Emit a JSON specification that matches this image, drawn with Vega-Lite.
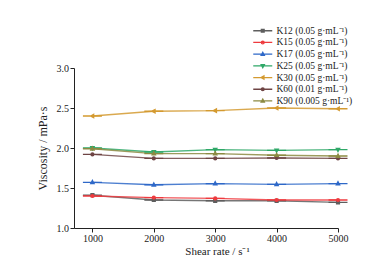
{
  "$schema": "https://vega.github.io/schema/vega-lite/v6.json",
  "width": 264,
  "height": 160,
  "autosize": "none",
  "padding": {"left": 74, "top": 68, "right": 37, "bottom": 35},
  "background": "white",
  "config": {
    "font": "Liberation Serif",
    "view": {"stroke": null},
    "axis": {
      "grid": false,
      "domainColor": "#222",
      "tickColor": "#222",
      "tickSize": 4,
      "labelPadding": 1.5,
      "labelFont": "Liberation Serif",
      "labelFontSize": 10,
      "labelColor": "#222",
      "titleFont": "Liberation Serif",
      "titleFontWeight": "normal",
      "titleColor": "#222"
    }
  },
  "data": {
    "values": [
      {"series": "K12 (0.05 g·mL⁻¹)", "rate": 1000, "viscosity": 1.41},
      {"series": "K12 (0.05 g·mL⁻¹)", "rate": 2000, "viscosity": 1.35},
      {"series": "K12 (0.05 g·mL⁻¹)", "rate": 3000, "viscosity": 1.34},
      {"series": "K12 (0.05 g·mL⁻¹)", "rate": 4000, "viscosity": 1.34},
      {"series": "K12 (0.05 g·mL⁻¹)", "rate": 5000, "viscosity": 1.32},
      {"series": "K15 (0.05 g·mL⁻¹)", "rate": 1000, "viscosity": 1.40},
      {"series": "K15 (0.05 g·mL⁻¹)", "rate": 2000, "viscosity": 1.38},
      {"series": "K15 (0.05 g·mL⁻¹)", "rate": 3000, "viscosity": 1.37},
      {"series": "K15 (0.05 g·mL⁻¹)", "rate": 4000, "viscosity": 1.35},
      {"series": "K15 (0.05 g·mL⁻¹)", "rate": 5000, "viscosity": 1.35},
      {"series": "K17 (0.05 g·mL⁻¹)", "rate": 1000, "viscosity": 1.57},
      {"series": "K17 (0.05 g·mL⁻¹)", "rate": 2000, "viscosity": 1.54},
      {"series": "K17 (0.05 g·mL⁻¹)", "rate": 3000, "viscosity": 1.555},
      {"series": "K17 (0.05 g·mL⁻¹)", "rate": 4000, "viscosity": 1.545},
      {"series": "K17 (0.05 g·mL⁻¹)", "rate": 5000, "viscosity": 1.555},
      {"series": "K25 (0.05 g·mL⁻¹)", "rate": 1000, "viscosity": 2.0},
      {"series": "K25 (0.05 g·mL⁻¹)", "rate": 2000, "viscosity": 1.95},
      {"series": "K25 (0.05 g·mL⁻¹)", "rate": 3000, "viscosity": 1.98},
      {"series": "K25 (0.05 g·mL⁻¹)", "rate": 4000, "viscosity": 1.97},
      {"series": "K25 (0.05 g·mL⁻¹)", "rate": 5000, "viscosity": 1.98},
      {"series": "K30 (0.05 g·mL⁻¹)", "rate": 1000, "viscosity": 2.40},
      {"series": "K30 (0.05 g·mL⁻¹)", "rate": 2000, "viscosity": 2.46},
      {"series": "K30 (0.05 g·mL⁻¹)", "rate": 3000, "viscosity": 2.467},
      {"series": "K30 (0.05 g·mL⁻¹)", "rate": 4000, "viscosity": 2.50},
      {"series": "K30 (0.05 g·mL⁻¹)", "rate": 5000, "viscosity": 2.49},
      {"series": "K60 (0.01 g·mL⁻¹)", "rate": 1000, "viscosity": 1.92},
      {"series": "K60 (0.01 g·mL⁻¹)", "rate": 2000, "viscosity": 1.87},
      {"series": "K60 (0.01 g·mL⁻¹)", "rate": 3000, "viscosity": 1.87},
      {"series": "K60 (0.01 g·mL⁻¹)", "rate": 4000, "viscosity": 1.875},
      {"series": "K60 (0.01 g·mL⁻¹)", "rate": 5000, "viscosity": 1.87},
      {"series": "K90 (0.005 g·mL⁻¹)", "rate": 1000, "viscosity": 1.99},
      {"series": "K90 (0.005 g·mL⁻¹)", "rate": 2000, "viscosity": 1.93},
      {"series": "K90 (0.005 g·mL⁻¹)", "rate": 3000, "viscosity": 1.93},
      {"series": "K90 (0.005 g·mL⁻¹)", "rate": 4000, "viscosity": 1.91},
      {"series": "K90 (0.005 g·mL⁻¹)", "rate": 5000, "viscosity": 1.90}
    ]
  },
  "encoding": {
    "x": {
      "field": "rate",
      "type": "quantitative",
      "scale": {"domain": [700, 5000], "nice": false, "zero": false},
      "axis": {
        "values": [1000, 2000, 3000, 4000, 5000],
        "format": "d",
        "title": "Shear rate / s⁻¹",
        "titleFontSize": 11,
        "titlePadding": 2,
        "titleX": 143,
        "labelFlush": false
      }
    },
    "y": {
      "field": "viscosity",
      "type": "quantitative",
      "scale": {"domain": [1, 3], "nice": false, "zero": false},
      "axis": {
        "values": [1, 1.5, 2, 2.5, 3],
        "format": ".1f",
        "title": "Viscosity / mPa·s",
        "titleFontSize": 12,
        "titlePadding": 7
      }
    }
  },
  "layer": [
    {
      "mark": {"type": "line", "strokeWidth": 1.4, "opacity": 0.85},
      "encoding": {
        "stroke": {
          "field": "series",
          "type": "nominal",
          "legend": null,
          "scale": {
            "range": ["#5e5e5e", "#ee3a3e", "#2e68c8", "#2fa868", "#d49a30", "#6e4444", "#8c8a42"]
          }
        }
      }
    },
    {
      "mark": {"type": "point", "filled": false, "size": 16, "strokeWidth": 1.4, "opacity": 1},
      "encoding": {
        "color": {
          "field": "series",
          "type": "nominal",
          "scale": {
            "domain": ["K12 (0.05 g·mL⁻¹)", "K15 (0.05 g·mL⁻¹)", "K17 (0.05 g·mL⁻¹)", "K25 (0.05 g·mL⁻¹)", "K30 (0.05 g·mL⁻¹)", "K60 (0.01 g·mL⁻¹)", "K90 (0.005 g·mL⁻¹)"],
            "range": ["#5e5e5e", "#ee3a3e", "#2e68c8", "#2fa868", "#d49a30", "#6e4444", "#8c8a42"]
          },
          "legend": {"title": null, "orient": "none", "legendX": 184, "legendY": -42, "padding": 0, "rowPadding": 0.7, "symbolSize": 16, "symbolStrokeWidth": 1.3, "labelOffset": 9, "labelFont": "Liberation Serif", "labelFontSize": 9.5, "labelColor": "#222", "labelLimit": 200}
        },
        "shape": {
          "field": "series",
          "type": "nominal",
          "scale": {
            "domain": ["K12 (0.05 g·mL⁻¹)", "K15 (0.05 g·mL⁻¹)", "K17 (0.05 g·mL⁻¹)", "K25 (0.05 g·mL⁻¹)", "K30 (0.05 g·mL⁻¹)", "K60 (0.01 g·mL⁻¹)", "K90 (0.005 g·mL⁻¹)"],
            "range": [
              "M-4.75,0H4.75M-0.7,-0.7H0.7V0.7H-0.7Z",
              "M-4.75,0H4.75M0.7,0A0.7,0.7,0,1,1,-0.7,0A0.7,0.7,0,1,1,0.7,0Z",
              "M-4.75,0H4.75M0,-0.9L0.8,0.6H-0.8Z",
              "M-4.75,0H4.75M0,0.9L0.8,-0.6H-0.8Z",
              "M-4.75,0H4.75M-0.9,0L0.6,-0.8V0.8Z",
              "M-4.75,0H4.75M0.7,0A0.7,0.7,0,1,1,-0.7,0A0.7,0.7,0,1,1,0.7,0Z",
              "M-4.75,0H4.75M0,-0.9L0.8,0.6H-0.8Z"
            ]
          },
          "legend": {"title": null, "orient": "none", "legendX": 184, "legendY": -42, "padding": 0, "rowPadding": 0.7, "symbolSize": 16, "symbolStrokeWidth": 1.3, "labelOffset": 9, "labelFont": "Liberation Serif", "labelFontSize": 9.5, "labelColor": "#222", "labelLimit": 200}
        }
      }
    }
  ]
}
